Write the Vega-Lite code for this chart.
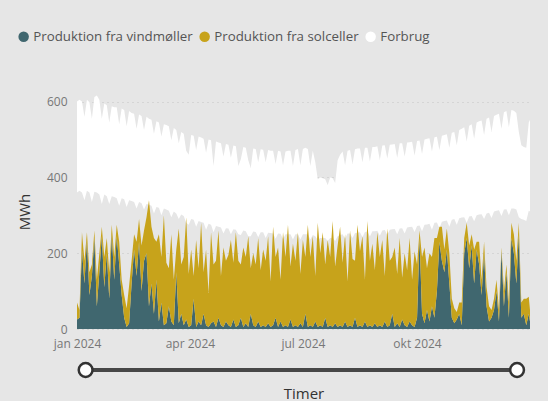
{
"$schema":"https://vega.github.io/schema/vega-lite/v6.json",
"background":"#e6e6e6",
"padding":{"left":17,"top":30,"right":18,"bottom":2},
"config":{"view":{"stroke":null},"font":"Open Sans",
"axis":{"labelColor":"#777777","labelFontSize":12,"titleColor":"#333333","titleFontSize":15,"titleFontWeight":"normal","domain":false,"ticks":false},
"legend":{"labelColor":"#555555","labelFontSize":13.3}},
"datasets":{
"energi":[
{"t":"2024-01-01","w":25,"s":45,"lo":360,"hi":600},
{"t":"2024-01-03","w":30,"s":20,"lo":365,"hi":605},
{"t":"2024-01-05","w":210,"s":45,"lo":360,"hi":600},
{"t":"2024-01-07","w":120,"s":60,"lo":340,"hi":560},
{"t":"2024-01-09","w":235,"s":20,"lo":365,"hi":605},
{"t":"2024-01-11","w":90,"s":60,"lo":360,"hi":598},
{"t":"2024-01-13","w":140,"s":30,"lo":335,"hi":555},
{"t":"2024-01-15","w":240,"s":20,"lo":362,"hi":612},
{"t":"2024-01-17","w":60,"s":70,"lo":360,"hi":616},
{"t":"2024-01-19","w":150,"s":50,"lo":355,"hi":605},
{"t":"2024-01-21","w":245,"s":25,"lo":330,"hi":555},
{"t":"2024-01-23","w":110,"s":80,"lo":355,"hi":595},
{"t":"2024-01-25","w":200,"s":40,"lo":350,"hi":590},
{"t":"2024-01-27","w":80,"s":70,"lo":330,"hi":545},
{"t":"2024-01-29","w":250,"s":25,"lo":350,"hi":588},
{"t":"2024-01-31","w":130,"s":60,"lo":348,"hi":585},
{"t":"2024-02-02","w":245,"s":30,"lo":345,"hi":585},
{"t":"2024-02-04","w":170,"s":60,"lo":325,"hi":540},
{"t":"2024-02-06","w":90,"s":40,"lo":345,"hi":582},
{"t":"2024-02-08","w":30,"s":60,"lo":342,"hi":578},
{"t":"2024-02-10","w":5,"s":50,"lo":322,"hi":535},
{"t":"2024-02-12","w":15,"s":100,"lo":340,"hi":575},
{"t":"2024-02-14","w":120,"s":60,"lo":338,"hi":570},
{"t":"2024-02-16","w":210,"s":40,"lo":335,"hi":568},
{"t":"2024-02-18","w":140,"s":90,"lo":318,"hi":528},
{"t":"2024-02-20","w":230,"s":60,"lo":335,"hi":566},
{"t":"2024-02-22","w":100,"s":120,"lo":332,"hi":562},
{"t":"2024-02-24","w":180,"s":80,"lo":315,"hi":525},
{"t":"2024-02-26","w":200,"s":95,"lo":330,"hi":560},
{"t":"2024-02-28","w":60,"s":280,"lo":328,"hi":555},
{"t":"2024-03-01","w":120,"s":150,"lo":325,"hi":552},
{"t":"2024-03-03","w":40,"s":200,"lo":305,"hi":515},
{"t":"2024-03-05","w":130,"s":100,"lo":322,"hi":548},
{"t":"2024-03-07","w":20,"s":230,"lo":320,"hi":545},
{"t":"2024-03-09","w":70,"s":120,"lo":300,"hi":508},
{"t":"2024-03-11","w":10,"s":290,"lo":318,"hi":540},
{"t":"2024-03-13","w":15,"s":160,"lo":315,"hi":538},
{"t":"2024-03-15","w":60,"s":100,"lo":312,"hi":535},
{"t":"2024-03-17","w":20,"s":230,"lo":295,"hi":498},
{"t":"2024-03-19","w":10,"s":120,"lo":310,"hi":530},
{"t":"2024-03-21","w":150,"s":60,"lo":305,"hi":525},
{"t":"2024-03-23","w":15,"s":250,"lo":290,"hi":490},
{"t":"2024-03-25","w":40,"s":130,"lo":302,"hi":520},
{"t":"2024-03-27","w":10,"s":180,"lo":298,"hi":515},
{"t":"2024-03-29","w":25,"s":270,"lo":280,"hi":470},
{"t":"2024-03-31","w":5,"s":140,"lo":275,"hi":460},
{"t":"2024-04-02","w":10,"s":200,"lo":290,"hi":512},
{"t":"2024-04-04","w":80,"s":60,"lo":288,"hi":510},
{"t":"2024-04-06","w":5,"s":230,"lo":270,"hi":472},
{"t":"2024-04-08","w":20,"s":140,"lo":285,"hi":508},
{"t":"2024-04-10","w":10,"s":270,"lo":282,"hi":505},
{"t":"2024-04-12","w":40,"s":110,"lo":280,"hi":502},
{"t":"2024-04-14","w":10,"s":200,"lo":262,"hi":465},
{"t":"2024-04-16","w":5,"s":90,"lo":278,"hi":500},
{"t":"2024-04-18","w":15,"s":240,"lo":275,"hi":498},
{"t":"2024-04-20","w":20,"s":150,"lo":255,"hi":430},
{"t":"2024-04-22","w":5,"s":175,"lo":272,"hi":495},
{"t":"2024-04-24","w":30,"s":230,"lo":270,"hi":492},
{"t":"2024-04-26","w":10,"s":130,"lo":268,"hi":490},
{"t":"2024-04-28","w":5,"s":210,"lo":252,"hi":455},
{"t":"2024-04-30","w":20,"s":160,"lo":266,"hi":488},
{"t":"2024-05-02","w":10,"s":185,"lo":265,"hi":486},
{"t":"2024-05-04","w":5,"s":230,"lo":250,"hi":452},
{"t":"2024-05-06","w":25,"s":150,"lo":263,"hi":484},
{"t":"2024-05-08","w":5,"s":250,"lo":262,"hi":482},
{"t":"2024-05-10","w":10,"s":170,"lo":250,"hi":430},
{"t":"2024-05-12","w":30,"s":140,"lo":248,"hi":448},
{"t":"2024-05-14","w":5,"s":210,"lo":260,"hi":480},
{"t":"2024-05-16","w":15,"s":175,"lo":258,"hi":478},
{"t":"2024-05-18","w":5,"s":240,"lo":245,"hi":445},
{"t":"2024-05-20","w":40,"s":120,"lo":245,"hi":425},
{"t":"2024-05-22","w":10,"s":190,"lo":257,"hi":476},
{"t":"2024-05-24","w":5,"s":165,"lo":256,"hi":475},
{"t":"2024-05-26","w":20,"s":220,"lo":242,"hi":440},
{"t":"2024-05-28","w":5,"s":150,"lo":255,"hi":474},
{"t":"2024-05-30","w":10,"s":200,"lo":255,"hi":473},
{"t":"2024-06-01","w":5,"s":175,"lo":240,"hi":440},
{"t":"2024-06-03","w":15,"s":230,"lo":254,"hi":472},
{"t":"2024-06-05","w":5,"s":120,"lo":253,"hi":470},
{"t":"2024-06-07","w":10,"s":260,"lo":252,"hi":470},
{"t":"2024-06-09","w":30,"s":160,"lo":238,"hi":435},
{"t":"2024-06-11","w":5,"s":210,"lo":252,"hi":470},
{"t":"2024-06-13","w":20,"s":110,"lo":251,"hi":468},
{"t":"2024-06-15","w":5,"s":250,"lo":237,"hi":432},
{"t":"2024-06-17","w":10,"s":180,"lo":250,"hi":468},
{"t":"2024-06-19","w":5,"s":270,"lo":250,"hi":470},
{"t":"2024-06-21","w":25,"s":140,"lo":250,"hi":470},
{"t":"2024-06-23","w":5,"s":220,"lo":236,"hi":430},
{"t":"2024-06-25","w":10,"s":170,"lo":250,"hi":472},
{"t":"2024-06-27","w":5,"s":250,"lo":250,"hi":475},
{"t":"2024-06-29","w":15,"s":130,"lo":236,"hi":432},
{"t":"2024-07-01","w":5,"s":230,"lo":250,"hi":475},
{"t":"2024-07-03","w":40,"s":150,"lo":250,"hi":478},
{"t":"2024-07-05","w":5,"s":270,"lo":250,"hi":475},
{"t":"2024-07-07","w":10,"s":180,"lo":236,"hi":430},
{"t":"2024-07-09","w":5,"s":240,"lo":248,"hi":470},
{"t":"2024-07-11","w":20,"s":120,"lo":245,"hi":440},
{"t":"2024-07-13","w":5,"s":275,"lo":235,"hi":395},
{"t":"2024-07-15","w":10,"s":190,"lo":240,"hi":400},
{"t":"2024-07-17","w":5,"s":250,"lo":240,"hi":398},
{"t":"2024-07-19","w":30,"s":140,"lo":240,"hi":395},
{"t":"2024-07-21","w":5,"s":230,"lo":232,"hi":380},
{"t":"2024-07-23","w":10,"s":180,"lo":240,"hi":400},
{"t":"2024-07-25","w":5,"s":280,"lo":240,"hi":398},
{"t":"2024-07-27","w":15,"s":150,"lo":232,"hi":385},
{"t":"2024-07-29","w":5,"s":215,"lo":245,"hi":445},
{"t":"2024-07-31","w":10,"s":260,"lo":248,"hi":460},
{"t":"2024-08-02","w":5,"s":170,"lo":250,"hi":468},
{"t":"2024-08-04","w":20,"s":230,"lo":238,"hi":432},
{"t":"2024-08-06","w":5,"s":120,"lo":252,"hi":470},
{"t":"2024-08-08","w":10,"s":250,"lo":252,"hi":472},
{"t":"2024-08-10","w":5,"s":180,"lo":240,"hi":435},
{"t":"2024-08-12","w":30,"s":150,"lo":253,"hi":474},
{"t":"2024-08-14","w":5,"s":270,"lo":254,"hi":476},
{"t":"2024-08-16","w":10,"s":195,"lo":255,"hi":476},
{"t":"2024-08-18","w":5,"s":240,"lo":242,"hi":440},
{"t":"2024-08-20","w":20,"s":110,"lo":256,"hi":478},
{"t":"2024-08-22","w":5,"s":280,"lo":257,"hi":478},
{"t":"2024-08-24","w":10,"s":170,"lo":244,"hi":442},
{"t":"2024-08-26","w":5,"s":220,"lo":258,"hi":480},
{"t":"2024-08-28","w":15,"s":140,"lo":258,"hi":480},
{"t":"2024-08-30","w":5,"s":250,"lo":259,"hi":482},
{"t":"2024-09-01","w":10,"s":180,"lo":246,"hi":446},
{"t":"2024-09-03","w":5,"s":230,"lo":260,"hi":484},
{"t":"2024-09-05","w":20,"s":120,"lo":261,"hi":485},
{"t":"2024-09-07","w":5,"s":260,"lo":248,"hi":450},
{"t":"2024-09-09","w":10,"s":170,"lo":262,"hi":486},
{"t":"2024-09-11","w":40,"s":150,"lo":263,"hi":487},
{"t":"2024-09-13","w":5,"s":210,"lo":264,"hi":488},
{"t":"2024-09-15","w":15,"s":130,"lo":250,"hi":452},
{"t":"2024-09-17","w":5,"s":235,"lo":265,"hi":490},
{"t":"2024-09-19","w":25,"s":110,"lo":266,"hi":490},
{"t":"2024-09-21","w":10,"s":190,"lo":252,"hi":455},
{"t":"2024-09-23","w":5,"s":150,"lo":268,"hi":492},
{"t":"2024-09-25","w":20,"s":220,"lo":269,"hi":493},
{"t":"2024-09-27","w":10,"s":120,"lo":270,"hi":494},
{"t":"2024-09-29","w":5,"s":200,"lo":256,"hi":458},
{"t":"2024-10-01","w":30,"s":140,"lo":272,"hi":496},
{"t":"2024-10-03","w":240,"s":20,"lo":273,"hi":497},
{"t":"2024-10-05","w":40,"s":150,"lo":258,"hi":462},
{"t":"2024-10-07","w":15,"s":200,"lo":275,"hi":500},
{"t":"2024-10-09","w":50,"s":110,"lo":276,"hi":502},
{"t":"2024-10-11","w":20,"s":180,"lo":278,"hi":503},
{"t":"2024-10-13","w":60,"s":130,"lo":262,"hi":468},
{"t":"2024-10-15","w":30,"s":210,"lo":280,"hi":506},
{"t":"2024-10-17","w":100,"s":140,"lo":281,"hi":507},
{"t":"2024-10-19","w":230,"s":40,"lo":266,"hi":472},
{"t":"2024-10-21","w":180,"s":90,"lo":283,"hi":510},
{"t":"2024-10-23","w":150,"s":60,"lo":285,"hi":512},
{"t":"2024-10-25","w":210,"s":55,"lo":286,"hi":514},
{"t":"2024-10-27","w":120,"s":80,"lo":270,"hi":478},
{"t":"2024-10-29","w":30,"s":50,"lo":288,"hi":518},
{"t":"2024-10-31","w":15,"s":40,"lo":290,"hi":520},
{"t":"2024-11-02","w":25,"s":20,"lo":275,"hi":485},
{"t":"2024-11-04","w":40,"s":30,"lo":292,"hi":525},
{"t":"2024-11-06","w":10,"s":60,"lo":294,"hi":528},
{"t":"2024-11-08","w":200,"s":40,"lo":295,"hi":532},
{"t":"2024-11-10","w":240,"s":40,"lo":280,"hi":495},
{"t":"2024-11-12","w":160,"s":60,"lo":297,"hi":536},
{"t":"2024-11-14","w":220,"s":30,"lo":298,"hi":540},
{"t":"2024-11-16","w":120,"s":90,"lo":284,"hi":502},
{"t":"2024-11-18","w":210,"s":20,"lo":300,"hi":545},
{"t":"2024-11-20","w":170,"s":60,"lo":302,"hi":548},
{"t":"2024-11-22","w":90,"s":40,"lo":303,"hi":550},
{"t":"2024-11-24","w":200,"s":30,"lo":290,"hi":512},
{"t":"2024-11-26","w":60,"s":50,"lo":305,"hi":555},
{"t":"2024-11-28","w":20,"s":40,"lo":307,"hi":558},
{"t":"2024-11-30","w":30,"s":20,"lo":293,"hi":520},
{"t":"2024-12-02","w":50,"s":30,"lo":310,"hi":562},
{"t":"2024-12-04","w":100,"s":30,"lo":312,"hi":565},
{"t":"2024-12-06","w":20,"s":30,"lo":313,"hi":568},
{"t":"2024-12-08","w":205,"s":10,"lo":298,"hi":528},
{"t":"2024-12-10","w":60,"s":40,"lo":315,"hi":572},
{"t":"2024-12-12","w":150,"s":20,"lo":316,"hi":575},
{"t":"2024-12-14","w":30,"s":40,"lo":300,"hi":532},
{"t":"2024-12-16","w":240,"s":40,"lo":318,"hi":578},
{"t":"2024-12-18","w":200,"s":50,"lo":318,"hi":576},
{"t":"2024-12-20","w":120,"s":60,"lo":315,"hi":570},
{"t":"2024-12-22","w":250,"s":30,"lo":295,"hi":520},
{"t":"2024-12-24","w":30,"s":40,"lo":290,"hi":485},
{"t":"2024-12-26","w":40,"s":40,"lo":288,"hi":480},
{"t":"2024-12-28","w":10,"s":70,"lo":285,"hi":478},
{"t":"2024-12-30","w":40,"s":45,"lo":312,"hi":545},
{"t":"2024-12-31","w":20,"s":30,"lo":310,"hi":552}
],
"slider":[{"p":0},{"p":1}]
},
"spacing":9,
"vconcat":[
{
"width":453,"height":235,
"data":{"name":"energi"},
"layer":[
{"mark":{"type":"area","opacity":1},
"encoding":{
"x":{"field":"t","type":"temporal","scale":{"type":"utc","domain":[{"year":2024,"month":1,"date":1,"utc":true},{"year":2024,"month":12,"date":31,"utc":true}]},
"axis":{"title":null,"grid":false,"labelPadding":9,"labelFlush":false,"values":[{"year":2024,"month":1,"date":1,"utc":true},{"year":2024,"month":4,"date":1,"utc":true},{"year":2024,"month":7,"date":1,"utc":true},{"year":2024,"month":10,"date":1,"utc":true}],
"labelExpr":"['jan','feb','mar','apr','maj','jun','jul','aug','sep','okt','nov','dec'][utcmonth(datum.value)] + ' ' + utcyear(datum.value)"}},
"y":{"field":"lo","type":"quantitative","scale":{"domain":[0,620],"nice":false},"axis":{"title":"MWh","values":[0,200,400,600],"labelPadding":10,"titlePadding":14,"grid":true,"gridDash":[1,4],"gridColor":"#c4c4c4"}},
"y2":{"field":"hi"},
"color":{"datum":"c","type":"nominal"}
}},
{"transform":[{"fold":["w","s"],"as":["k","v"]}],
"mark":{"type":"area","opacity":1},
"encoding":{
"x":{"field":"t","type":"temporal"},
"y":{"field":"v","type":"quantitative","stack":"zero","axis":{"title":"MWh","values":[0,200,400,600],"labelPadding":10,"titlePadding":14,"grid":true,"gridDash":[1,4],"gridColor":"#c4c4c4"}},
"color":{"field":"k","type":"nominal","scale":{"domain":["w","s","c"],"range":["#40676F","#C7A31B","#ffffff"]},
"legend":{"title":null,"orient":"none","legendX":-60,"legendY":-64,"direction":"horizontal","symbolType":"circle","symbolSize":110,"symbolStrokeWidth":0,"labelOffset":3,"columnPadding":5,"labelLimit":0,
"labelExpr":"datum.value == 'w' ? 'Produktion fra vindmøller' : datum.value == 's' ? 'Produktion fra solceller' : 'Forbrug'"}},
"order":{"field":"k","sort":"descending"}
}}
]
},
{
"width":453,"height":20,
"data":{"name":"slider"},
"layer":[
{"mark":{"type":"line","color":"#474747","strokeWidth":4},
"encoding":{
"x":{"field":"p","type":"quantitative","scale":{"domain":[-0.02,1.03],"nice":false,"zero":false},"axis":{"title":"Timer","labels":false,"grid":false,"titlePadding":6,"titleColor":"#333333"}},
"y":{"datum":0,"type":"quantitative","scale":{"domain":[-1,1],"nice":false},"axis":null}}},
{"mark":{"type":"point","filled":true,"fill":"#ffffff","stroke":"#333333","strokeWidth":2.5,"size":190,"opacity":1},
"encoding":{
"x":{"field":"p","type":"quantitative"},
"y":{"datum":0,"type":"quantitative"}}}
]
}
]
}
